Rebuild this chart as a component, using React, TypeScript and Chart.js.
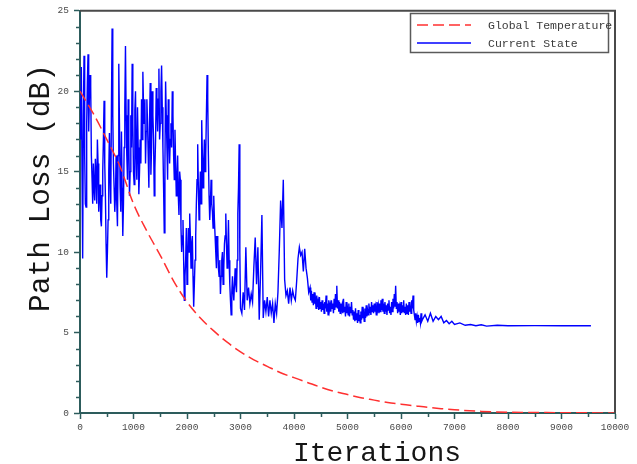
import { useEffect, useRef } from 'react';
import { Chart, registerables } from 'chart.js';

Chart.register(...registerables);

// ---- data ----
const stateIterations = [
  0, 12.5, 25, 37.5, 50, 62.5, 75, 87.5, 100, 112.5, 125, 137.5, 150, 162.5, 175, 187.5, 200, 212.5, 225, 237.5,
  250, 262.5, 275, 287.5, 300, 312.5, 325, 337.5, 350, 362.5, 375, 387.5, 400, 412.5, 425, 437.5, 450, 462.5, 475, 487.5,
  500, 512.5, 525, 537.5, 550, 562.5, 575, 587.5, 600, 612.5, 625, 637.5, 650, 662.5, 675, 687.5, 700, 712.5, 725, 737.5,
  750, 762.5, 775, 787.5, 800, 812.5, 825, 837.5, 850, 862.5, 875, 887.5, 900, 912.5, 925, 937.5, 950, 962.5, 975, 987.5,
  1000, 1012.5, 1025, 1037.5, 1050, 1062.5, 1075, 1087.5, 1100, 1112.5, 1125, 1137.5, 1150, 1162.5, 1175, 1187.5, 1200, 1212.5, 1225, 1237.5,
  1250, 1262.5, 1275, 1287.5, 1300, 1312.5, 1325, 1337.5, 1350, 1362.5, 1375, 1387.5, 1400, 1412.5, 1425, 1437.5, 1450, 1462.5, 1475, 1487.5,
  1500, 1512.5, 1525, 1537.5, 1550, 1562.5, 1575, 1587.5, 1600, 1612.5, 1625, 1637.5, 1650, 1662.5, 1675, 1687.5, 1700, 1712.5, 1725, 1737.5,
  1750, 1762.5, 1775, 1787.5, 1800, 1812.5, 1825, 1837.5, 1850, 1862.5, 1875, 1887.5, 1900, 1912.5, 1925, 1937.5, 1950, 1962.5, 1975, 1987.5,
  2000, 2012.5, 2025, 2037.5, 2050, 2062.5, 2075, 2087.5, 2100, 2112.5, 2125, 2137.5, 2150, 2162.5, 2175, 2187.5, 2200, 2212.5, 2225, 2237.5,
  2250, 2262.5, 2275, 2287.5, 2300, 2312.5, 2325, 2337.5, 2350, 2362.5, 2375, 2387.5, 2400, 2412.5, 2425, 2437.5, 2450, 2462.5, 2475, 2487.5,
  2500, 2512.5, 2525, 2537.5, 2550, 2562.5, 2575, 2587.5, 2600, 2612.5, 2625, 2637.5, 2650, 2662.5, 2675, 2687.5, 2700, 2712.5, 2725, 2737.5,
  2750, 2762.5, 2775, 2787.5, 2800, 2812.5, 2825, 2837.5, 2850, 2862.5, 2875, 2887.5, 2900, 2912.5, 2925, 2937.5, 2950, 2962.5, 2975, 2987.5,
  3000, 3025, 3050, 3075, 3100, 3125, 3150, 3175, 3200, 3225, 3250, 3275, 3300, 3325, 3350, 3375, 3400, 3425, 3450, 3475,
  3500, 3525, 3550, 3575, 3600, 3625, 3650, 3675, 3700, 3725, 3750, 3775, 3800, 3825, 3850, 3875, 3900, 3925, 3950, 3975,
  4000, 4025, 4050, 4075, 4100, 4125, 4150, 4175, 4200, 4225, 4250, 4275,
  4300, 4312.5, 4325, 4337.5, 4350, 4362.5, 4375, 4387.5, 4400, 4412.5, 4425, 4437.5, 4450, 4462.5, 4475, 4487.5,
  4500, 4512.5, 4525, 4537.5, 4550, 4562.5, 4575, 4587.5, 4600, 4612.5, 4625, 4637.5, 4650, 4662.5, 4675, 4687.5,
  4700, 4712.5, 4725, 4737.5, 4750, 4762.5, 4775, 4787.5, 4800, 4812.5, 4825, 4837.5, 4850, 4862.5, 4875, 4887.5,
  4900, 4912.5, 4925, 4937.5, 4950, 4962.5, 4975, 4987.5, 5000, 5012.5, 5025, 5037.5, 5050, 5062.5, 5075, 5087.5,
  5100, 5112.5, 5125, 5137.5, 5150, 5162.5, 5175, 5187.5, 5200, 5212.5, 5225, 5237.5, 5250, 5262.5, 5275, 5287.5,
  5300, 5312.5, 5325, 5337.5, 5350, 5362.5, 5375, 5387.5, 5400, 5412.5, 5425, 5437.5, 5450, 5462.5, 5475, 5487.5,
  5500, 5512.5, 5525, 5537.5, 5550, 5562.5, 5575, 5587.5, 5600, 5612.5, 5625, 5637.5, 5650, 5662.5, 5675, 5687.5,
  5700, 5712.5, 5725, 5737.5, 5750, 5762.5, 5775, 5787.5, 5800, 5812.5, 5825, 5837.5, 5850, 5862.5, 5875, 5887.5,
  5900, 5912.5, 5925, 5937.5, 5950, 5962.5, 5975, 5987.5, 6000, 6012.5, 6025, 6037.5, 6050, 6062.5, 6075, 6087.5,
  6100, 6112.5, 6125, 6137.5, 6150, 6162.5, 6175, 6187.5, 6200, 6212.5, 6225, 6237.5, 6250, 6262.5, 6275, 6287.5,
  6300, 6312.5, 6325, 6337.5, 6350, 6362.5, 6375, 6387.5, 6400,
  6450, 6500, 6550, 6600, 6650, 6700, 6750, 6800, 6850, 6900, 6950, 7000,
  7100, 7200, 7300, 7400, 7500, 7600, 7800, 8000, 8500, 9000, 9550,
];

const currentState = [
  19.5, 17.0, 21.5, 15.0, 9.6, 18.5, 22.2, 16.0, 13.0, 12.8, 18.0, 20.5, 22.3, 17.5, 19.5, 21.0, 20.3, 16.0, 14.6, 13.0,
  15.5, 14.0, 13.2, 15.8, 14.8, 13.0, 17.0, 15.5, 12.5, 13.8, 14.2, 12.0, 11.6, 13.5, 15.0, 17.0, 19.4, 15.5, 13.5, 10.5,
  8.4, 10.0, 12.0, 15.0, 17.4, 14.5, 13.0, 19.0, 23.9, 18.5, 15.5, 14.0, 12.5, 13.5, 16.0, 13.0, 11.6, 16.0, 21.7, 18.0,
  14.0, 12.5, 17.5, 14.0, 11.0, 13.0, 16.5, 19.0, 22.8, 18.5, 16.0, 14.5, 19.5, 17.0, 13.5, 15.0, 18.5, 16.5, 21.7, 18.0,
  15.0, 14.2, 18.8, 20.0, 16.0, 14.5, 19.0, 16.5, 13.6, 15.0, 17.0, 15.5, 19.5, 17.0, 21.2, 19.0, 18.0, 19.5, 15.5, 17.5,
  19.5, 18.0, 16.0, 14.0, 18.2, 20.5, 14.8, 16.5, 20.0, 18.5, 17.0, 13.5, 15.2, 17.0, 20.2, 19.0, 17.5, 19.5, 21.4, 17.0,
  18.0, 20.0, 21.6, 19.0, 16.5, 14.0, 11.2, 15.5, 20.6, 18.5, 16.5, 14.5, 19.5, 17.5, 15.5, 17.0, 18.0, 16.5, 20.0, 18.5,
  16.0, 14.5, 17.6, 15.5, 13.5, 14.5, 16.0, 13.5, 12.3, 15.0, 14.5, 11.5, 10.0, 11.0, 12.0, 9.5, 7.0, 8.5, 9.5, 11.5,
  8.0, 9.5, 11.5, 10.0, 12.4, 11.0, 9.0, 10.5, 11.0, 8.5, 6.6, 8.0, 9.5, 11.0, 13.0, 14.5, 16.7, 14.0, 12.0, 13.5,
  15.0, 13.0, 18.2, 16.0, 14.0, 15.5, 17.0, 15.0, 16.0, 18.5, 21.0, 19.5, 16.0, 13.5, 12.0, 13.0, 14.5, 13.0, 12.5, 11.5,
  13.5, 12.0, 11.0, 10.0, 9.0, 11.0, 10.5, 9.0, 8.5, 9.5, 7.4, 8.5, 9.5, 10.0, 8.0, 9.0, 10.5, 11.0, 12.4, 10.5,
  9.0, 10.0, 12.0, 9.5, 8.0, 7.0, 6.1, 7.5, 8.5, 7.5, 7.0, 8.0, 9.0, 8.0, 7.5, 9.5, 12.4, 14.0, 16.7, 10.0,
  6.5, 6.2, 7.5, 6.4, 10.3, 7.0, 7.8, 6.8, 7.4, 6.9, 9.1, 10.9, 8.0, 10.3, 5.8, 8.7, 12.3, 5.9, 7.0, 6.3,
  7.2, 6.0, 7.0, 6.2, 6.8, 5.6, 6.8, 6.2, 7.5, 10.1, 13.2, 11.5, 14.5, 8.3, 7.3, 7.6, 6.8, 7.8, 7.0, 7.6,
  7.2, 7.0, 8.2, 9.6, 10.3, 9.8, 10.0, 8.8, 10.2, 9.0, 8.4, 7.5,
  7.8, 7.0, 7.6, 6.9, 7.4, 6.7, 7.5, 6.8, 7.1, 6.5, 7.3, 6.6, 6.9, 6.4, 7.2, 6.5,
  6.9, 6.3, 7.0, 6.4, 6.8, 6.2, 6.9, 6.5, 7.3, 6.3, 6.8, 6.1, 7.0, 6.4, 6.7, 6.3,
  7.0, 6.5, 6.8, 6.2, 7.1, 6.4, 7.4, 6.6, 7.9, 6.5, 7.0, 6.3, 6.9, 6.2, 6.8, 6.4,
  6.7, 6.2, 7.1, 6.3, 6.6, 6.0, 6.9, 6.2, 6.5, 6.1, 6.8, 6.0, 6.6, 6.2, 6.9, 6.1,
  6.4, 5.8, 6.3, 5.7, 6.5, 5.8, 6.2, 5.6, 6.4, 5.7, 6.1, 5.6, 6.3, 5.8, 6.6, 5.9,
  6.2, 5.7, 6.5, 5.9, 6.7, 6.0, 6.4, 6.1, 6.8, 6.2, 6.6, 6.1, 6.9, 6.3, 6.7, 6.2,
  6.8, 6.3, 6.6, 6.1, 6.9, 6.4, 6.7, 6.2, 6.8, 6.3, 7.0, 6.4, 7.1, 6.3, 6.8, 6.2,
  6.9, 6.3, 6.7, 6.1, 6.8, 6.4, 7.0, 6.2, 6.6, 6.1, 6.9, 6.3, 7.1, 6.5, 7.4, 6.6,
  7.9, 6.5, 6.9, 6.2, 6.8, 6.3, 6.6, 6.1, 6.9, 6.2, 6.7, 6.3, 7.0, 6.2, 6.6, 6.1,
  6.8, 6.2, 6.7, 6.1, 6.9, 6.3, 6.6, 6.2, 7.0, 6.5, 7.3, 6.4, 6.1, 5.8, 6.2, 5.7,
  6.0, 5.6, 6.1, 5.7, 5.9, 5.6, 6.2, 5.7, 5.8,
  6.1, 5.7, 6.2, 5.7, 6.0, 5.8, 6.0, 5.6, 5.75, 5.55, 5.7, 5.5,
  5.6, 5.45, 5.5, 5.42, 5.48, 5.4, 5.45, 5.42, 5.43, 5.42, 5.42,
];

const tempIterations = [
  0, 250, 500, 750, 1000, 1250, 1500, 1750, 2000, 2250, 2500, 2750, 3000, 3250, 3500, 3750, 4000,
  4250, 4500, 4750, 5000, 5250, 5500, 5750, 6000, 6250, 6500, 6750, 7000, 7500, 8000, 9000, 10000,
];
const globalTemperature = [
  20.0, 18.6, 17.0, 15.3, 13.0, 11.3, 9.8, 8.2, 6.9, 5.9, 5.1, 4.4, 3.8, 3.3, 2.9, 2.5, 2.2,
  1.9, 1.6, 1.35, 1.15, 0.95, 0.8, 0.65, 0.55, 0.45, 0.35, 0.27, 0.2, 0.1, 0.05, 0.02, 0,
];

const xTicks = [0, 1000, 2000, 3000, 4000, 5000, 6000, 7000, 8000, 9000, 10000];
const yTicks = [0, 5, 10, 15, 20, 25];
const seriesLabels = ['Global Temperature', 'Current State'];
const xTitle = 'Iterations';
const yTitle = 'Path Loss (dB)';

// ---- style ----
const AXIS_COLOR = '#2d5c5c';
const FRAME_COLOR = '#4a4a4a';
const MONO = '"Liberation Mono", "DejaVu Sans Mono", monospace';
const RED = '#ff3030';
const BLUE = '#0000ff';
const RED_DASH = [11, 5];

const extrasPlugin = {
  id: 'extras',
  afterDraw(chart: any) {
    const { ctx, chartArea: a, scales } = chart;
    const xs = scales.x;
    const ys = scales.y;
    ctx.save();
    // minor ticks
    ctx.strokeStyle = AXIS_COLOR;
    ctx.lineWidth = 1.5;
    ctx.beginPath();
    for (let i = 0; i < xTicks.length - 1; i++) {
      const v = (xTicks[i] + xTicks[i + 1]) / 2;
      const px = Math.round(xs.getPixelForValue(v)) + 0.5;
      ctx.moveTo(px, a.bottom);
      ctx.lineTo(px, a.bottom + 4);
    }
    for (let i = 0; i < yTicks.length - 1; i++) {
      for (let k = 1; k < 5; k++) {
        const v = yTicks[i] + ((yTicks[i + 1] - yTicks[i]) * k) / 5;
        const py = Math.round(ys.getPixelForValue(v)) + 0.5;
        ctx.moveTo(a.left - 4, py);
        ctx.lineTo(a.left, py);
      }
    }
    ctx.stroke();

    // top/right frame
    ctx.strokeStyle = FRAME_COLOR;
    ctx.lineWidth = 2;
    ctx.beginPath();
    ctx.moveTo(a.left, a.top);
    ctx.lineTo(a.right, a.top);
    ctx.lineTo(a.right, a.bottom);
    ctx.stroke();

    // axis titles
    ctx.fillStyle = '#151515';
    ctx.textBaseline = 'middle';
    ctx.textAlign = 'center';
    ctx.font = '28px ' + MONO;
    ctx.fillText(xTitle, 377, 454);
    ctx.save();
    ctx.translate(41, 188);
    ctx.rotate(-Math.PI / 2);
    ctx.font = '29.5px ' + MONO;
    ctx.fillText(yTitle, 0, 0);
    ctx.restore();

    // legend
    const bx = 410.5, by = 13.5, bw = 198, bh = 39;
    ctx.fillStyle = '#ffffff';
    ctx.fillRect(bx, by, bw, bh);
    ctx.strokeStyle = '#5a5a5a';
    ctx.lineWidth = 1.5;
    ctx.strokeRect(bx, by, bw, bh);
    const rows = [25, 43];
    const dsList = chart.data.datasets;
    ctx.font = '11.5px ' + MONO;
    ctx.textBaseline = 'middle';
    ctx.textAlign = 'left';
    for (let i = 0; i < dsList.length; i++) {
      const ds = dsList[i];
      ctx.strokeStyle = ds.borderColor;
      ctx.lineWidth = 1.5;
      ctx.setLineDash(ds.borderDash || []);
      ctx.beginPath();
      ctx.moveTo(417, rows[i]);
      ctx.lineTo(471, rows[i]);
      ctx.stroke();
      ctx.setLineDash([]);
      ctx.fillStyle = '#3a3a3a';
      ctx.fillText(ds.label, 488, rows[i] + 1);
    }
    ctx.restore();
  },
};

export default function App() {
  const canvasRef = useRef<HTMLCanvasElement | null>(null);

  useEffect(() => {
    const canvas = canvasRef.current;
    if (!canvas) return;

    const redData = tempIterations.map((x, i) => ({ x, y: globalTemperature[i] }));
    const blueData = stateIterations.map((x, i) => ({ x, y: currentState[i] }));

    const axisCommon = {
      grid: {
        display: true,
        drawOnChartArea: false,
        drawTicks: true,
        tickLength: 6,
        tickWidth: 1.5,
        tickColor: AXIS_COLOR,
      },
      border: { display: true, color: AXIS_COLOR, width: 2 },
    };

    const chart = new Chart(canvas, {
      type: 'line',
      data: {
        datasets: [
          {
            label: seriesLabels[0],
            data: redData,
            borderColor: RED,
            borderWidth: 1.5,
            borderDash: RED_DASH,
            pointRadius: 0,
            cubicInterpolationMode: 'monotone',
            fill: false,
          },
          {
            label: seriesLabels[1],
            data: blueData,
            borderColor: BLUE,
            borderWidth: 1.4,
            pointRadius: 0,
            tension: 0,
            fill: false,
          },
        ],
      },
      options: {
        responsive: false,
        animation: false,
        events: [],
        layout: { padding: { top: 10, right: 22, left: 0, bottom: 0 } },
        plugins: {
          legend: { display: false },
          tooltip: { enabled: false },
        },
        scales: {
          x: {
            type: 'linear',
            min: 0,
            max: 10000,
            ...axisCommon,
            afterBuildTicks: (scale: any) => {
              scale.ticks = xTicks.map((v) => ({ value: v }));
            },
            afterFit: (scale: any) => {
              scale.height = 51;
            },
            ticks: {
              autoSkip: false,
              maxRotation: 0,
              padding: 3,
              color: '#4a4a4a',
              font: { family: MONO, size: 9.5 },
              callback: (v: any) => String(v),
            },
            title: { display: false },
          },
          y: {
            type: 'linear',
            min: 0,
            max: 25,
            ...axisCommon,
            afterBuildTicks: (scale: any) => {
              scale.ticks = yTicks.map((v) => ({ value: v }));
            },
            afterFit: (scale: any) => {
              scale.width = 80;
            },
            ticks: {
              autoSkip: false,
              padding: 5,
              color: '#4a4a4a',
              font: { family: MONO, size: 9.5 },
              callback: (v: any) => String(v),
            },
            title: { display: false },
          },
        },
      },
      plugins: [extrasPlugin],
    } as any);

    return () => chart.destroy();
  }, []);

  return (
    <div style={{ position: 'fixed', left: 0, top: 0, width: 637, height: 464, background: '#ffffff' }}>
      <canvas ref={canvasRef} width={637} height={464} style={{ display: 'block' }} />
    </div>
  );
}
